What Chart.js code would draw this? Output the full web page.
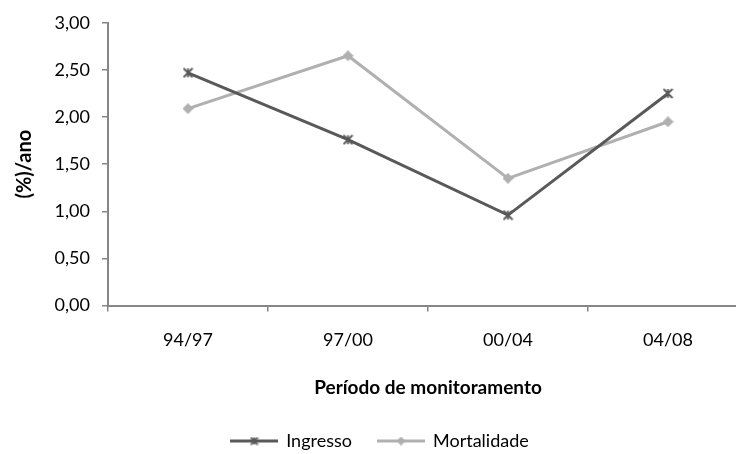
<!DOCTYPE html>
<html>
<head>
<meta charset="utf-8">
<script src="https://cdn.jsdelivr.net/npm/chart.js@4/dist/chart.umd.min.js"></script>
<style>
  html, body { margin: 0; padding: 0; background: #fff; overflow: hidden; }
  #wrap { position: relative; width: 764px; height: 454px; }
</style>
</head>
<body>
<div id="wrap"><canvas id="chart"></canvas></div>
<script>
const periodos = ["94/97", "97/00", "00/04", "04/08"]
const ingresso = [2.47, 1.76, 0.96, 2.25]
const mortalidade = [2.09, 2.65, 1.35, 1.95]
const yTicks = [0, 0.5, 1, 1.5, 2, 2.5, 3]

const font = "Lato, 'Open Sans', sans-serif"
const axisGray = "#868686"
const darkGray = "#595959"
const lightGray = "#b0b0b0"

// small "*" marker (x plus vertical bar), like the excel one
function starMarker(color, size)
{
    const c = document.createElement("canvas")
    c.width = c.height = size
    const g = c.getContext("2d")
    const m = size / 2, r = size / 2 - 1
    g.strokeStyle = color
    g.lineWidth = 1.8
    g.beginPath()
    g.moveTo(m - r, m - r); g.lineTo(m + r, m + r)
    g.moveTo(m + r, m - r); g.lineTo(m - r, m + r)
    g.moveTo(m, m - r); g.lineTo(m, m + r)
    g.stroke()
    return c
}

function diamondMarker(color, size)
{
    const c = document.createElement("canvas")
    c.width = c.height = size
    const g = c.getContext("2d")
    const m = size / 2
    g.fillStyle = color
    g.beginPath()
    g.moveTo(m, 0); g.lineTo(size, m); g.lineTo(m, size); g.lineTo(0, m)
    g.closePath()
    g.fill()
    return c
}

// legend symbol: short line with the marker in the middle
function legendSymbol(color, marker)
{
    const c = document.createElement("canvas")
    c.width = 48
    c.height = 12
    const g = c.getContext("2d")
    g.strokeStyle = color
    g.lineWidth = 3
    g.beginPath()
    g.moveTo(0, 6); g.lineTo(48, 6)
    g.stroke()
    g.drawImage(marker, 24 - marker.width / 2, 6 - marker.height / 2)
    return c
}

const ingressoMarker = starMarker(darkGray, 11)
const mortalidadeMarker = diamondMarker(lightGray, 11)
const legendImgs = [
    legendSymbol(darkGray, starMarker(darkGray, 9)),
    legendSymbol(lightGray, diamondMarker(lightGray, 9))
]

const config = {
    type: 'line',
    data: {
        labels: periodos,
        datasets: [
            {
                label: "Ingresso",
                data: ingresso,
                borderColor: darkGray,
                backgroundColor: darkGray,
                borderWidth: 3,
                pointStyle: ingressoMarker,
                tension: 0,
            },
            {
                label: "Mortalidade",
                data: mortalidade,
                borderColor: lightGray,
                backgroundColor: lightGray,
                borderWidth: 3,
                pointStyle: mortalidadeMarker,
                tension: 0,
            }
        ]
    },
    options: {
        responsive: true,
        maintainAspectRatio: false,
        animation: false,
        layout: {
            padding: {left: 12, right: 16, top: 18, bottom: -6}
        },
        scales: {
            x: {
                offset: true,
                grid: {
                    display: true,
                    drawOnChartArea: false,
                    offset: true,
                    tickLength: 6,
                    color: axisGray,
                    lineWidth: 1.5,
                },
                border: {color: axisGray, width: 2},
                ticks: {
                    color: "#000",
                    padding: 18,
                    font: {family: font, size: 18},
                },
                title: {
                    display: true,
                    text: "Período de monitoramento",
                    color: "#000",
                    padding: {top: 7, bottom: 7},
                    font: {family: font, size: 19, weight: 'bold'},
                }
            },
            y: {
                min: 0,
                max: 3,
                afterBuildTicks: axis => {
                    axis.ticks = yTicks.map(v => ({value: v}))
                },
                afterFit: axis => {
                    axis.width = 96
                },
                grid: {
                    display: true,
                    drawOnChartArea: false,
                    tickLength: 6,
                    color: axisGray,
                    lineWidth: 1.5,
                },
                border: {color: axisGray, width: 2},
                ticks: {
                    color: "#000",
                    padding: 12,
                    font: {family: font, size: 18},
                    callback: v => v.toFixed(2).replace(".", ",")
                },
                title: {
                    display: true,
                    text: "(%)/ano",
                    color: "#000",
                    padding: {top: 1, bottom: 0},
                    font: {family: font, size: 20, weight: 'bold'},
                }
            }
        },
        plugins: {
            legend: {
                position: 'bottom',
                labels: {
                    usePointStyle: true,
                    pointStyleWidth: 46,
                    color: "#000",
                    padding: 26,
                    font: {family: font, size: 18},
                    generateLabels: chart => {
                        const items = Chart.defaults.plugins.legend.labels.generateLabels(chart)
                        items.forEach((it, i) => { it.pointStyle = legendImgs[i] })
                        return items
                    }
                }
            },
            tooltip: {enabled: false}
        }
    }
}

const ctx = document.getElementById("chart")
const myChart = new Chart(ctx, config)
</script>
</body>
</html>
